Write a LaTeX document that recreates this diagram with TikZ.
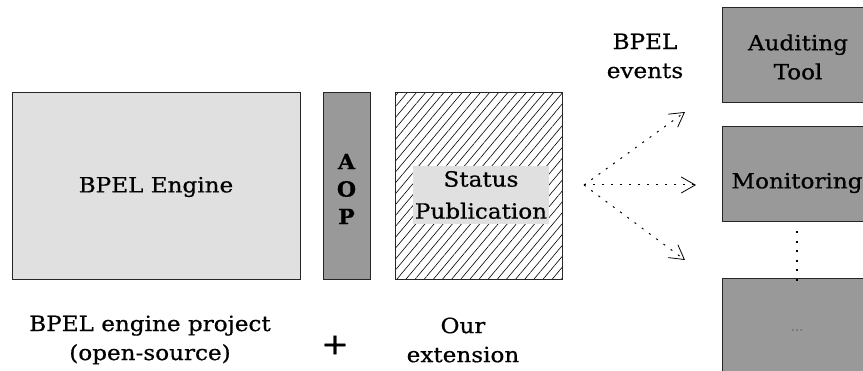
\documentclass[tikz,border=0pt]{standalone}
\usepackage{fontspec}
\setmainfont{DejaVu Serif}[FakeStretch=1.1,FakeBold=0.6,BoldFeatures={FakeStretch=1.05}]
\usetikzlibrary{patterns.meta,arrows.meta}
\definecolor{lightbox}{HTML}{E0E0E0}
\definecolor{darkbox}{HTML}{999999}
\begin{document}
\begin{tikzpicture}[x=1pt,y=-1pt,
  frame/.style={draw=black!85,line width=1.2pt},
  lbl/.style={font=\fontsize{21}{29}\selectfont,align=center},
  evarrow/.style={line width=1pt,dash pattern=on 2pt off 7pt,
    -{Straight Barb[length=14pt,width=16pt,line width=0.8pt]}}]
\useasboundingbox (0,0) rectangle (863,371);
% engine, aspect layer and extension
\node[frame,fill=lightbox,minimum width=288pt,minimum height=187pt,anchor=north west] (engine) at (12,92) {};
\node[lbl] (enginetxt) at (156,187) {BPEL Engine};
\node[frame,fill=darkbox,minimum width=47pt,minimum height=187pt,anchor=north west] (aop) at (323,92) {};
\node[lbl,font=\fontsize{21}{27.5}\selectfont\bfseries] (aoptxt) at (346.5,189) {A\\O\\P};
\node[frame,pattern={Lines[angle=50,distance=7pt,line width=0.6pt]},minimum width=167pt,minimum height=187pt,anchor=north west] (ext) at (395,92) {};
\node[fill=lightbox,lbl,font=\fontsize{21}{32}\selectfont,inner xsep=2pt,inner ysep=5pt] (status) at (481,195) {Status\\Publication};
% consumers
\node[frame,fill=darkbox,minimum width=150pt,minimum height=95pt,anchor=north west] (audit) at (722,7) {};
\node[lbl] (audittxt) at (798,57) {Auditing\\Tool};
\node[frame,fill=darkbox,minimum width=150pt,minimum height=95pt,anchor=north west] (mon) at (722,126) {};
\node[lbl] (montxt) at (797,183) {Monitoring};
\node[frame,fill=darkbox,minimum width=150pt,minimum height=93pt,anchor=north west] (more) at (722,278) {};
\node[font=\fontsize{12}{14}\selectfont,text=black!55] (moretxt) at (797,330) {...};
\draw[line width=1.6pt,dash pattern=on 2pt off 7.5pt] (mon.south -| moretxt) ++(0,9) -- ([yshift=-9pt]more.north -| moretxt);
% event arrows
\coordinate (src) at (584,185);
\coordinate (t1) at (685,112);
\coordinate (t2) at (696,185);
\coordinate (t3) at (685,260);
\draw[evarrow] (src) -- (t1);
\draw[evarrow] (src) -- (t2);
\draw[evarrow] (src) -- (t3);
\node[lbl] (events) at (645,56) {BPEL\\events};
% captions
\node[lbl] (cap1) at (150,340) {BPEL engine project\\(open-source)};
\node[font=\fontsize{30}{30}\selectfont] (plus) at (335,345) {+};
\node[lbl] (cap2) at (463,340) {Our\\extension};
\end{tikzpicture}
\end{document}
